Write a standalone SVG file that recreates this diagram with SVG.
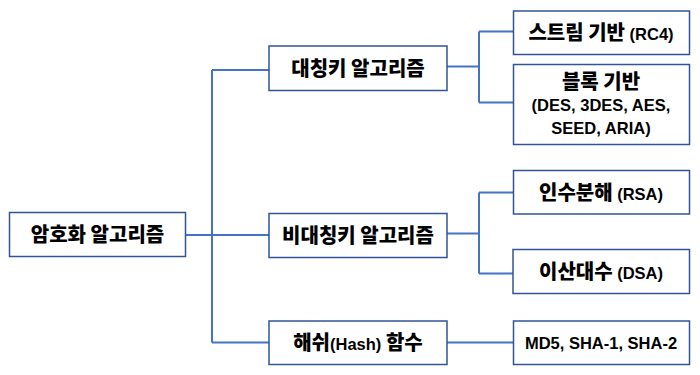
<svg xmlns="http://www.w3.org/2000/svg" width="700" height="375" viewBox="0 0 700 375">
<style>
.box{fill:#fff;stroke:#2F5597;stroke-width:1.5}
.ln{fill:none;stroke:#4472C4;stroke-width:2}
text{font-family:"Noto Sans CJK KR","Liberation Sans",sans-serif;font-weight:900;font-size:20px;fill:#000;text-anchor:middle}
.lat{font-family:"Liberation Sans","Noto Sans CJK KR",sans-serif;font-weight:bold;font-size:16.5px}
</style>
<rect width="700" height="375" fill="#fff"/>
<g id="connectors">
<path class="ln" d="M186,235 H269"/>
<path class="ln" d="M212,70 V342.5"/>
<path class="ln" d="M212,70 H269"/>
<path class="ln" d="M212,342.5 H269"/>
<path class="ln" d="M447,66.5 H479"/>
<path class="ln" d="M479,31.5 V102.5"/>
<path class="ln" d="M479,31.5 H513"/>
<path class="ln" d="M479,102.5 H513"/>
<path class="ln" d="M447,233.5 H479"/>
<path class="ln" d="M479,192.5 V273.5"/>
<path class="ln" d="M479,192.5 H513"/>
<path class="ln" d="M479,273.5 H513"/>
<path class="ln" d="M447,342.5 H513"/>
</g>
<g id="root">
<rect class="box" x="9.5" y="212.5" width="176" height="44"/>
<text x="97.5" y="242">암호화 알고리즘</text>
</g>
<g id="symmetric">
<rect class="box" x="269" y="46" width="178" height="44.5"/>
<text x="358" y="75.5">대칭키 알고리즘</text>
</g>
<g id="asymmetric">
<rect class="box" x="269" y="213.5" width="178" height="44"/>
<text x="358" y="243">비대칭키 알고리즘</text>
</g>
<g id="hash">
<rect class="box" x="269" y="321" width="178" height="43.5"/>
<text x="358" y="350">해쉬<tspan class="lat" font-size="18px">(Hash)</tspan> 함수</text>
</g>
<g id="stream">
<rect class="box" x="513.5" y="11" width="176" height="43.5"/>
<text x="601" y="40">스트림 기반 <tspan class="lat">(RC4)</tspan></text>
</g>
<g id="block">
<rect class="box" x="513.5" y="64.5" width="176" height="80"/>
<text x="601" y="88.5">블록 기반</text>
<text class="lat" x="601" y="110.5">(DES, 3DES, AES,</text>
<text class="lat" x="601" y="133.5">SEED, ARIA)</text>
</g>
<g id="factor">
<rect class="box" x="513.5" y="170.5" width="176" height="43.5"/>
<text x="601" y="199.5">인수분해 <tspan class="lat">(RSA)</tspan></text>
</g>
<g id="dlog">
<rect class="box" x="513" y="249.5" width="176.5" height="44"/>
<text x="601" y="278.5">이산대수 <tspan class="lat">(DSA)</tspan></text>
</g>
<g id="hashfn">
<rect class="box" x="513.5" y="321" width="176" height="43.5"/>
<text class="lat" x="601" y="349">MD5, SHA-1, SHA-2</text>
</g>
</svg>
